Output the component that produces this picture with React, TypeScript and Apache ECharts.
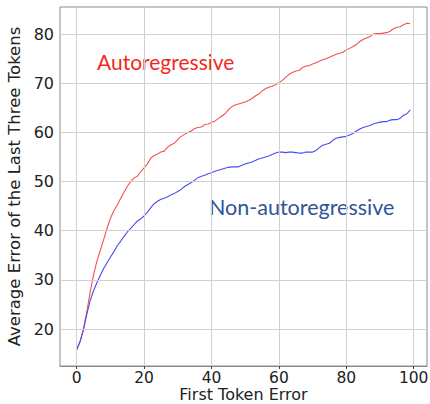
import React, { useEffect, useRef } from "react";
import * as echarts from "echarts";

const xValues: number[] = Array.from({ length: 100 }, (_, i) => i);

const autoregressive: number[] = [
  15.8, 17.5, 20.0, 23.5, 27.5, 31.0, 33.8, 36.0, 38.2, 40.5,
  42.5, 44.0, 45.2, 46.5, 47.8, 49.0, 50.0, 50.7, 51.1, 52.0,
  52.8, 53.6, 54.8, 55.3, 55.6, 56.0, 56.2, 57.0, 57.5, 57.8,
  58.6, 59.2, 59.6, 60.0, 60.3, 60.8, 61.0, 61.1, 61.6, 61.7,
  62.0, 62.3, 62.8, 63.3, 63.8, 64.6, 65.2, 65.6, 65.8, 66.0,
  66.2, 66.5, 66.9, 67.4, 67.8, 68.4, 68.9, 69.2, 69.4, 69.7,
  70.1, 70.6, 71.2, 71.8, 72.2, 72.5, 72.6, 73.2, 73.5, 73.6,
  73.9, 74.2, 74.5, 74.8, 75.0, 75.3, 75.6, 75.9, 76.1, 76.3,
  76.8, 77.1, 77.5, 77.9, 78.5, 78.9, 79.2, 79.5, 80.0, 80.1,
  80.1, 80.2, 80.3, 80.6, 81.1, 81.4, 81.5, 81.9, 82.2, 82.1,
];

const nonAutoregressive: number[] = [
  15.8, 17.4, 19.8, 23.0, 25.8, 27.8, 29.4, 30.9, 32.3, 33.5,
  34.6, 35.7, 36.9, 37.8, 38.8, 39.7, 40.5, 41.2, 42.0, 42.4,
  43.0, 43.8, 44.7, 45.5, 46.0, 46.4, 46.6, 46.9, 47.3, 47.6,
  48.0, 48.4, 49.0, 49.4, 49.8, 50.3, 50.8, 51.1, 51.3, 51.6,
  51.8, 52.1, 52.3, 52.5, 52.7, 52.9, 53.0, 53.0, 53.0, 53.3,
  53.6, 53.8, 54.0, 54.3, 54.6, 54.8, 55.0, 55.2, 55.5, 55.8,
  56.0, 56.0, 55.9, 56.0, 56.0, 55.9, 55.8, 55.8, 56.0, 56.0,
  56.0, 56.3, 56.9, 57.4, 57.6, 57.8, 58.4, 58.8, 59.0, 59.1,
  59.2, 59.5, 59.8, 60.3, 60.7, 61.0, 61.2, 61.4, 61.7, 61.9,
  62.1, 62.2, 62.2, 62.5, 62.6, 62.6, 62.9, 63.5, 63.8, 64.6,
];

const xTicks: number[] = [0, 20, 40, 60, 80, 100];
const yTicks: number[] = [20, 30, 40, 50, 60, 70, 80];

const seriesNames = ["Autoregressive", "Non-autoregressive"];
const xAxisTitle = "First Token Error";
const yAxisTitle = "Average Error of the Last Three Tokens";

export default function App() {
  const ref = useRef<HTMLDivElement>(null);

  useEffect(() => {
    document.body.style.margin = "0";
    if (!ref.current) return;
    const chart = echarts.init(ref.current, undefined, { renderer: "svg" });

    const all = autoregressive.concat(nonAutoregressive);
    const yMinD = Math.min(...all);
    const yMaxD = Math.max(...all);
    const yPad = (yMaxD - yMinD) * 0.05;
    const xMinD = xValues[0];
    const xMaxD = xValues[xValues.length - 1];
    const xPad = (xMaxD - xMinD) * 0.05;

    const tickFont = {
      fontFamily: "DejaVu Sans",
      fontSize: 16,
      color: "#222",
    };

    const gridLines = [
      ...xTicks.map((v) => ({ xAxis: v })),
      ...yTicks.map((v) => ({ yAxis: v })),
    ];

    chart.setOption({
      animation: false,
      backgroundColor: "#fff",
      grid: {
        left: 60,
        right: 3,
        top: 7,
        bottom: 38,
        containLabel: false,
        outerBoundsMode: "none",
        show: true,
        borderColor: "#8a8a8a",
        borderWidth: 1,
        backgroundColor: "transparent",
      },
      xAxis: {
        type: "value",
        min: xMinD - xPad,
        max: xMaxD + xPad,
        name: xAxisTitle,
        nameLocation: "middle",
        nameGap: 21.5,
        nameMoveOverlap: false,
        nameTextStyle: {
          fontFamily: "DejaVu Sans",
          fontSize: 16,
          lineHeight: 14,
          color: "#222",
          verticalAlign: "top",
        },
        axisLine: { show: true, lineStyle: { color: "#8a8a8a", width: 1 } },
        axisTick: {
          show: true,
          customValues: xTicks,
          length: 3,
          lineStyle: { color: "#444" },
        },
        axisLabel: {
          customValues: xTicks,
          margin: 5,
          ...tickFont,
          fontSize: 15.5,
          lineHeight: 13,
        },
        splitLine: { show: false },
      },
      yAxis: {
        type: "value",
        min: yMinD - yPad,
        max: yMaxD + yPad,
        name: yAxisTitle,
        nameLocation: "middle",
        nameRotate: 90,
        nameGap: 31,
        nameTextStyle: { fontFamily: "DejaVu Sans", fontSize: 16.5, color: "#222" },
        axisLine: { show: true, lineStyle: { color: "#8a8a8a", width: 1 } },
        axisTick: {
          show: true,
          customValues: yTicks,
          length: 3,
          lineStyle: { color: "#444" },
        },
        axisLabel: {
          customValues: yTicks,
          margin: 6,
          ...tickFont,
        },
        splitLine: { show: false },
      },
      series: [
        {
          name: "grid",
          type: "line",
          data: [],
          silent: true,
          markLine: {
            silent: true,
            symbol: ["none", "none"],
            label: { show: false },
            lineStyle: { color: "#d0d0d0", width: 1, type: "solid" },
            emphasis: { disabled: true },
            data: gridLines,
          },
        },
        {
          name: seriesNames[0],
          type: "line",
          data: xValues.map((x, i) => [x, autoregressive[i]]),
          showSymbol: false,
          lineStyle: { color: "#f55050", width: 1.1 },
          itemStyle: { color: "#f55050" },
          z: 3,
        },
        {
          name: seriesNames[1],
          type: "line",
          data: xValues.map((x, i) => [x, nonAutoregressive[i]]),
          showSymbol: false,
          lineStyle: { color: "#4b4bf5", width: 1.1 },
          itemStyle: { color: "#4b4bf5" },
          z: 3,
        },
      ],
      graphic: [
        {
          type: "text",
          left: 97,
          top: 51,
          style: {
            text: seriesNames[0],
            fontFamily: "Lato",
            fontSize: 21,
            fill: "#f0291f",
          },
        },
        {
          type: "text",
          left: 209,
          top: 196,
          style: {
            text: seriesNames[1],
            fontFamily: "Lato",
            fontSize: 21.5,
            fill: "#2f5597",
          },
        },
      ],
    });

    return () => chart.dispose();
  }, []);

  return <div ref={ref} style={{ width: 430, height: 404 }} />;
}
